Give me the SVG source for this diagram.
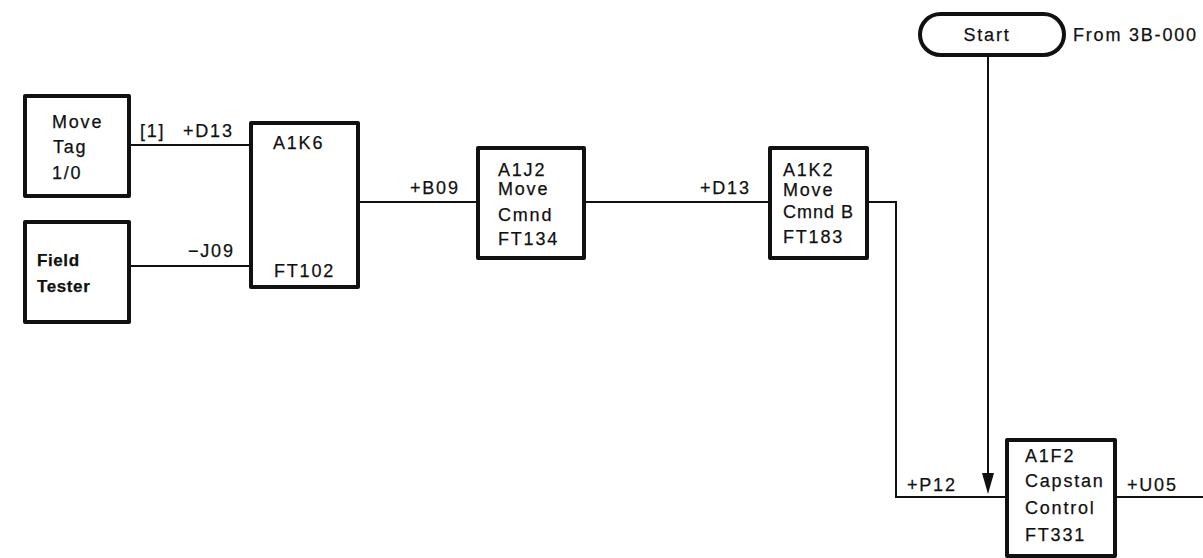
<svg xmlns="http://www.w3.org/2000/svg" width="1203" height="558" viewBox="0 0 1203 558">
<style>
.box{fill:#fff;stroke:#111;stroke-width:4;stroke-linejoin:round}
.wire{fill:none;stroke:#111;stroke-width:2}
text{font-family:"Liberation Sans",Arial,sans-serif;font-size:18px;fill:#111;letter-spacing:1.8px;stroke:#111;stroke-width:0.25px}
.b{font-weight:bold;letter-spacing:0.6px;font-size:17px}
</style>
<rect width="1203" height="558" fill="#fff"/>
<g id="connectors">
<path class="wire" d="M129,145 H250"/>
<path class="wire" d="M129,266 H250"/>
<path class="wire" d="M358,202 H477"/>
<path class="wire" d="M584,202 H769"/>
<path class="wire" d="M867,202 H896 V497 H1007"/>
<path class="wire" d="M988,55 V473"/>
<path d="M982,473 L994,473 L988,494 Z" fill="#111"/>
<path class="wire" d="M1115,497 H1203"/>
<text x="140" y="137">[1]</text>
<text x="183" y="137">+D13</text>
<text x="188" y="257">−J09</text>
<text x="410" y="194">+B09</text>
<text x="700" y="194">+D13</text>
<text x="907" y="491">+P12</text>
<text x="1127" y="491">+U05</text>
</g>
<g id="start">
<rect class="box" x="920" y="14" width="144" height="41" rx="20.5" ry="20.5"/>
<text x="987" y="41" text-anchor="middle">Start</text>
<text x="1073" y="41">From 3B-000</text>
</g>
<g id="move-tag">
<rect class="box" x="25" y="96" width="104" height="100"/>
<text x="52" y="128">Move</text>
<text x="53" y="153">Tag</text>
<text x="52" y="179">1/0</text>
</g>
<g id="field-tester">
<rect class="box" x="25" y="222" width="104" height="100"/>
<text class="b" x="37" y="266">Field</text>
<text class="b" x="37" y="292">Tester</text>
</g>
<g id="a1k6">
<rect class="box" x="251" y="123" width="107" height="164"/>
<text x="273" y="149">A1K6</text>
<text x="274" y="277">FT102</text>
</g>
<g id="a1j2">
<rect class="box" x="478" y="148" width="106" height="110"/>
<text x="498" y="176">A1J2</text>
<text x="498" y="195">Move</text>
<text x="498" y="221">Cmnd</text>
<text x="498" y="245">FT134</text>
</g>
<g id="a1k2">
<rect class="box" x="770" y="148" width="97" height="110"/>
<text x="783" y="176">A1K2</text>
<text x="783" y="196">Move</text>
<text x="783" y="218" style="letter-spacing:1px">Cmnd B</text>
<text x="783" y="243">FT183</text>
</g>
<g id="a1f2">
<rect class="box" x="1007" y="440" width="108" height="116"/>
<text x="1025" y="462">A1F2</text>
<text x="1025" y="487">Capstan</text>
<text x="1025" y="514">Control</text>
<text x="1025" y="541">FT331</text>
</g>
</svg>
